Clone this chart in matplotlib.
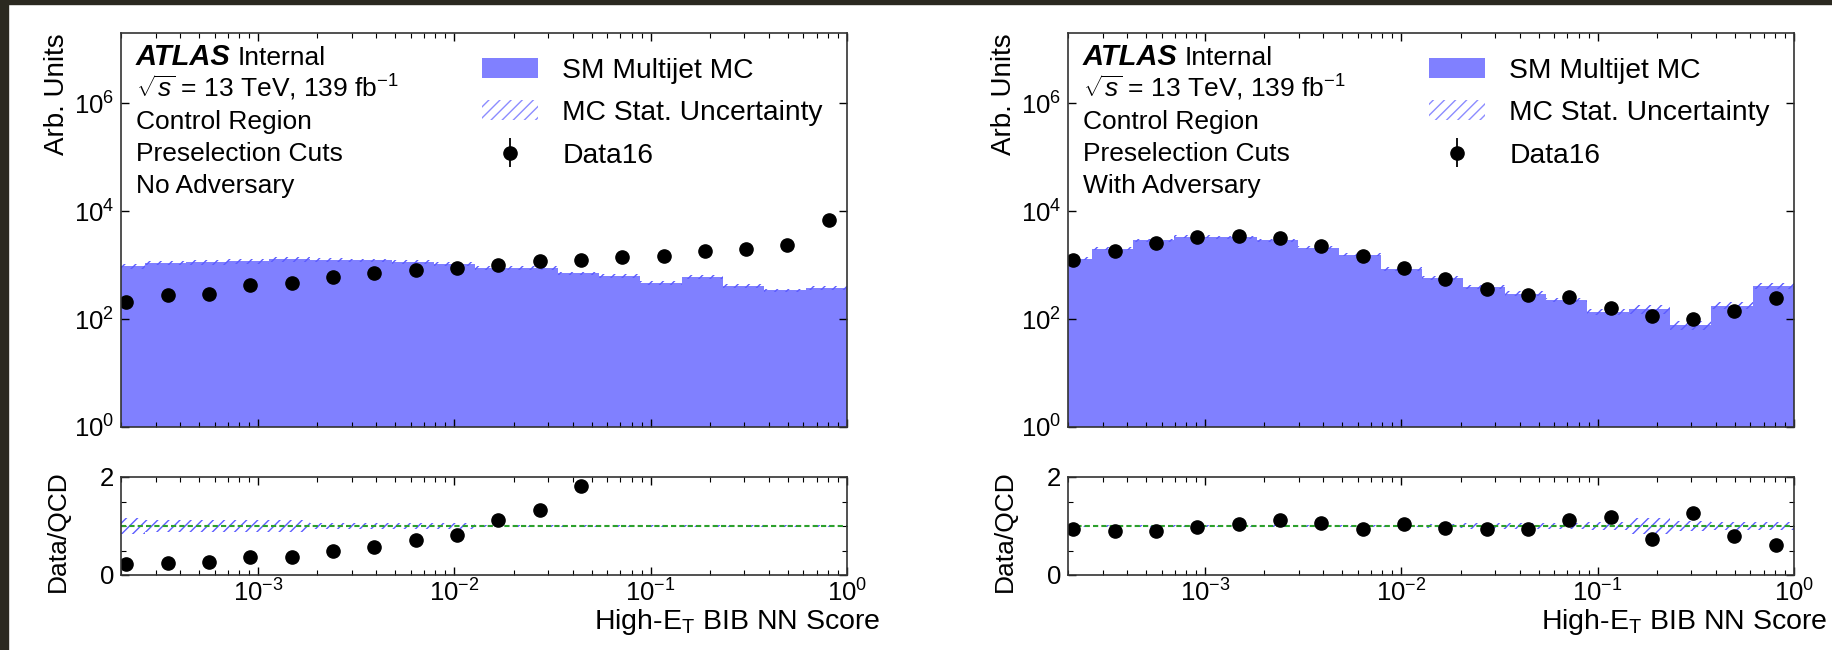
import numpy as np
import matplotlib
matplotlib.use("Agg")
import matplotlib.pyplot as plt
from matplotlib.patches import Patch, Rectangle
from matplotlib.ticker import FixedLocator, NullLocator, MultipleLocator, LogLocator, NullFormatter

plt.rcParams['font.family'] = ['Liberation Sans', 'DejaVu Sans']
plt.rcParams['mathtext.fontset'] = 'custom'
plt.rcParams['mathtext.rm'] = 'Liberation Sans'
plt.rcParams['mathtext.it'] = 'Liberation Sans:italic'
plt.rcParams['mathtext.bf'] = 'Liberation Sans:bold'
plt.rcParams['hatch.linewidth'] = 1.0

# bins of the NN score (log spaced, first bin from 1e-4 is outside the plot)
edges = np.logspace(-4, 0, 20)[1:]
centres = 0.5 * (edges[:-1] + edges[1:])

# left: no adversary
mc_left = [950, 1100, 1140, 1170, 1280, 1230, 1220, 1150, 1060, 900, 880, 700, 640, 470, 600, 405, 340, 380]
data_left = [205, 275, 297, 423, 458, 608, 702, 815, 870, 1005, 1170, 1270, 1427, 1488, 1817, 2006, 2346, 6730]
unc_main_left = [0.10, 0.10, 0.10, 0.10, 0.10, 0.08, 0.08, 0.08, 0.08, 0.08, 0.08, 0.08, 0.08, 0.08, 0.08, 0.08, 0.08, 0.08]
unc_ratio_left = [0.17, 0.13, 0.13, 0.13, 0.13, 0.06, 0.06, 0.06, 0.06, 0.02, 0.02, 0.02, 0.02, 0.02, 0.02, 0.02, 0.02, 0.02]

# right: with adversary
mc_right = [1320, 2000, 2900, 3370, 3270, 2890, 2110, 1570, 850, 575, 395, 295, 228, 138, 155, 78, 178, 410]
data_right = [1226, 1790, 2596, 3313, 3414, 3234, 2260, 1479, 887, 554, 367, 278, 255, 163, 113, 99, 140, 250]
unc_main_right = [0.06, 0.06, 0.06, 0.06, 0.06, 0.06, 0.06, 0.06, 0.07, 0.08, 0.09, 0.10, 0.10, 0.12, 0.20, 0.20, 0.14, 0.12]
unc_ratio_right = [0.02, 0.02, 0.02, 0.02, 0.02, 0.02, 0.02, 0.02, 0.03, 0.05, 0.07, 0.07, 0.07, 0.08, 0.16, 0.11, 0.09, 0.09]

panels = [
    (mc_left, data_left, unc_main_left, unc_ratio_left, "No Adversary", 121),
    (mc_right, data_right, unc_main_right, unc_ratio_right, "With Adversary", 1068),
]

W, H = 1832, 650
fig = plt.figure(figsize=(W / 100, H / 100), dpi=100)

mc_col = '#8080ff'
hatch_col = '#5c5cff'
fs = 19


def style(ax):
    ax.set_xscale('log')
    ax.set_xlim(2e-4, 1)
    ax.tick_params(which='both', direction='in', top=True, right=True, labelsize=18.5, pad=5)
    ax.tick_params(axis='x', which='both', pad=3.5)
    ax.tick_params(which='major', length=6, width=1)
    ax.tick_params(which='minor', length=3.5, width=0.8)
    ax.xaxis.set_minor_locator(LogLocator(base=10, subs=np.arange(2, 10)))
    ax.xaxis.set_minor_formatter(NullFormatter())
    for s in ax.spines.values():
        s.set_linewidth(1.2)
        s.set_color('#333333')


for mc, data, um, ur, tag, x0 in panels:
    mc = np.array(mc, float)
    data = np.array(data, float)
    um = np.array(um)
    ur = np.array(ur)

    ax = fig.add_axes([x0 / W, 1 - 427 / H, 726 / W, 394 / H])
    rx = fig.add_axes([x0 / W, 1 - 575 / H, 726 / W, 98 / H])
    style(ax)
    style(rx)

    # main panel
    ax.stairs(mc, edges, baseline=1e-3, fill=True, color=mc_col, lw=0)
    ax.stairs(mc * (1 + um), edges, baseline=mc * (1 - um), fill=True, facecolor='none',
              edgecolor=hatch_col, hatch='///', lw=0)
    eb = ax.errorbar(centres, data, yerr=np.sqrt(data), fmt='o', color='black', ms=9.5,
                     elinewidth=1.3, capsize=0)
    ax.set_yscale('log')
    ax.set_ylim(1, 2e7)
    ax.yaxis.set_major_locator(FixedLocator([1, 1e2, 1e4, 1e6]))
    ax.yaxis.set_minor_locator(NullLocator())
    ax.tick_params(axis='x', which='both', labelbottom=False)
    ax.set_ylabel('Arb. Units', fontsize=20, loc='top')
    ax.yaxis.set_label_coords(-0.07, 1.0)

    ax.text(0.0207, 0.919, 'ATLAS', fontsize=21, fontweight='bold', fontstyle='italic',
            transform=ax.transAxes, va='baseline')
    ax.text(0.161, 0.919, 'Internal', fontsize=fs, transform=ax.transAxes, va='baseline')
    lines = [r'$\sqrt{s}$ = 13 TeV, 139 fb$^{-1}$', 'Control Region', 'Preselection Cuts', tag]
    for i, t in enumerate(lines):
        ax.text(0.0207, 0.919 - 0.081 * (i + 1), t, fontsize=fs, transform=ax.transAxes,
                va='baseline')

    h_mc = Patch(facecolor=mc_col, edgecolor='none')
    h_unc = Patch(facecolor='none', edgecolor='#8c8cff', hatch='///', lw=0)
    ax.legend([h_mc, h_unc, eb], ['SM Multijet MC', 'MC Stat. Uncertainty', 'Data16'],
              loc='upper left', bbox_to_anchor=(0.497, 0.937), frameon=False, fontsize=20.3,
              borderpad=0, borderaxespad=0, handlelength=2.0, handleheight=0.72,
              handletextpad=0.85, labelspacing=0.58)

    # ratio panel
    ratio = data / mc
    rx.stairs(1 + ur, edges, baseline=1 - ur, fill=True, facecolor='none',
              edgecolor=hatch_col, hatch='///', lw=0)
    rx.axhline(1, color='#2ca02c', lw=1.5, ls=(0, (2.5, 1.5)))
    rx.errorbar(centres, ratio, yerr=np.sqrt(data) / mc, fmt='o', color='black', ms=9.5,
                elinewidth=1.3, capsize=0)
    rx.set_ylim(0, 2)
    rx.yaxis.set_major_locator(FixedLocator([0, 2]))
    rx.yaxis.set_minor_locator(MultipleLocator(0.5))
    rx.set_ylabel('Data/QCD', fontsize=19)
    rx.yaxis.set_label_coords(-0.07, 0.45)
    rx.text(1.046, -0.555, r'High-E$_{\mathrm{T}}$ BIB NN Score', fontsize=20.5,
            transform=rx.transAxes, ha='right', va='baseline')

# dark screenshot frame on top and left
fig.patches.append(Rectangle((0, 1 - 4 / H), 1, 4 / H, transform=fig.transFigure,
                             color='#2b2920', zorder=10))
fig.patches.append(Rectangle((0, 0), 8 / W, 1, transform=fig.transFigure,
                             color='#2b2920', zorder=10))

fig.savefig('out.png', dpi=100)
